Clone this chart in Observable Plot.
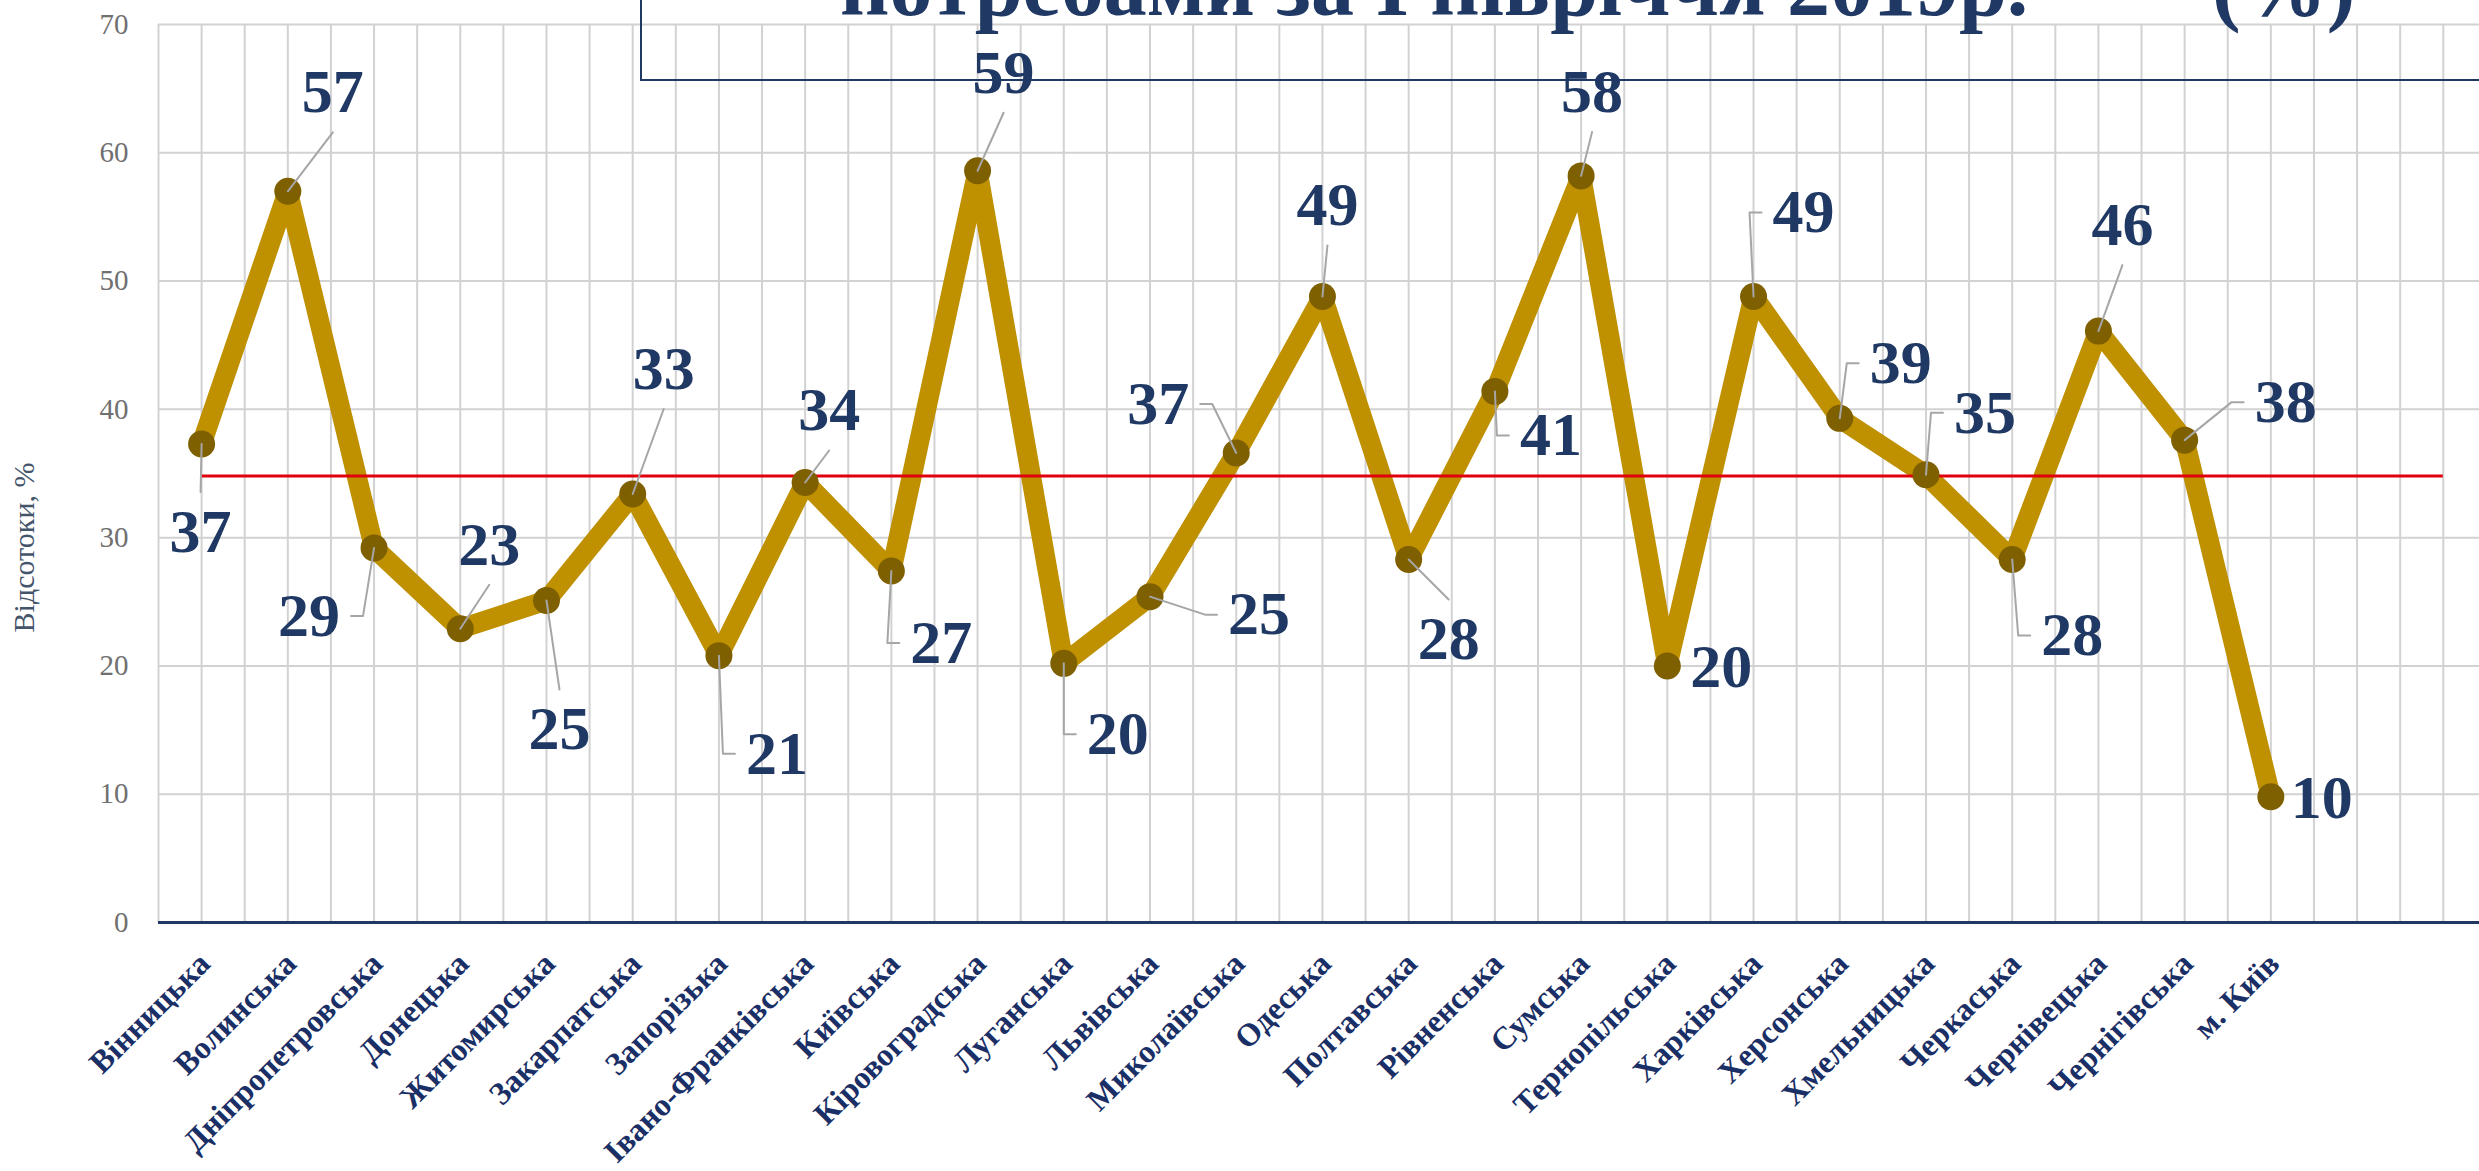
<!DOCTYPE html>
<html><head><meta charset="utf-8">
<script src="https://cdn.jsdelivr.net/npm/d3@7"></script>
<script src="https://cdn.jsdelivr.net/npm/@observablehq/plot@0.6"></script>
<style>
html,body{margin:0;padding:0;background:#fff;overflow:hidden}
#wrap{position:relative;width:2479px;height:1171px;overflow:hidden;background:#fff}
#chart{position:absolute;left:0;top:0}
#titlebox{position:absolute;left:640px;top:-200px;width:2000px;height:281px;border-left:2px solid #1f3864;border-bottom:2px solid #1f3864;box-sizing:border-box}
.tt{position:absolute;font-family:"Liberation Serif","Times New Roman",serif;font-weight:bold;font-size:86px;color:#1f3864;white-space:nowrap;line-height:86px}
</style></head><body>
<div id="wrap">
<div id="chart"></div>
<div id="titlebox"></div>
<div class="tt" style="left:840px;top:-57px">потребами за І півріччя 2019р.</div>
<div class="tt" style="left:2212px;top:-57px">(%)</div>
</div>
<script>
// ---- data ----
const categories = ["Вінницька","Волинська","Дніпропетровська","Донецька","Житомирська","Закарпатська","Запорізька","Івано-Франківська","Київська","Кіровоградська","Луганська","Львівська","Миколаївська","Одеська","Полтавська","Рівненська","Сумська","Тернопільська","Харківська","Херсонська","Хмельницька","Черкаська","Чернівецька","Чернігівська","м. Київ"];
const values = [37.3,57.0,29.2,22.9,25.1,33.4,20.8,34.3,27.4,58.6,20.2,25.4,36.6,48.8,28.3,41.4,58.2,20.0,48.8,39.3,34.9,28.3,46.1,37.6,9.8];
const averageValue = 34.8;
const averageSlots = 27;
const yTicks = [0,10,20,30,40,50,60,70];
const yTitle = "Відсотоки, %";

// ---- layout (label offsets from each point, px) ----
const labelOffsets = [[-1,88],[45,-99],[-65,68],[29,-84],[13,129],[31,-125],[58,98],[24,-72],[50,72],[26,-98],[54,71],[109,18],[-78,-49],[5,-91],[40,80],[56,44],[11,-84],[54,1],[50,-84],[61,-55],[59,-62],[60,76],[24,-106],[101,-38],[51,1]];

const W = 2479, H = 1171, ML = 158, MR = 0, MT = 24, MB = 249;
const xDomain = [-0.5, 26.42];
const xs = Plot.scale({x: {type: "linear", domain: xDomain, range: [ML, W - MR]}});
const ys = Plot.scale({y: {type: "linear", domain: [0, 70], range: [H - MB, MT]}});

const data = categories.map((c, i) => ({i, c, v: values[i], t: d3.format(".0f")(values[i])}));

const SIDE = 47, HW = 42, HH = 40, HOOK = 12, MINLEN = 22;
const labels = [];
const leaders = [];
data.forEach((d, k) => {
  const px = xs.apply(d.i), py = ys.apply(d.v);
  const lx = px + labelOffsets[k][0], ly = py + labelOffsets[k][1];
  labels.push({x: xs.invert(lx), y: ys.invert(ly), t: d.t});
  let pts;
  if (Math.abs(lx - px) > SIDE) {
    const s = Math.sign(lx - px);
    const ex = lx - s * HW, hx = ex - s * HOOK;
    pts = Math.abs(ly - py) < 15 ? [[px, py], [ex, ly]] : [[px, py], [hx, ly], [ex, ly]];
  } else {
    const s = Math.sign(ly - py);
    pts = [[px, py], [lx, ly - s * HH]];
  }
  const last = pts[pts.length - 1];
  if (Math.hypot(last[0] - px, last[1] - py) < MINLEN) return;
  pts.forEach(([x, y]) => leaders.push({k, x: xs.invert(x), y: ys.invert(y)}));
});

// y-axis title position (px in the SVG)
const yTitlePos = {x: xs.invert(24), y: ys.invert(547), text: yTitle};

const serif = "'Liberation Serif','Times New Roman',serif";
const navy = "#1f3864";

const chart = Plot.plot({
  width: W, height: H,
  marginLeft: ML, marginRight: MR, marginTop: MT, marginBottom: MB,
  style: {background: "transparent", overflow: "visible"},
  x: {type: "linear", domain: xDomain, axis: null},
  y: {type: "linear", domain: [0, 70], axis: null},
  marks: [
    Plot.gridX(d3.range(-0.5, 26.01, 0.5), {stroke: "#d2d2d2", strokeOpacity: 1, strokeWidth: 2}),
    Plot.gridY(yTicks.filter(d => d > 0), {stroke: "#d2d2d2", strokeOpacity: 1, strokeWidth: 2}),
    Plot.ruleY([0], {stroke: navy, strokeWidth: 3}),
    Plot.line(data, {x: "i", y: "v", stroke: "#bf9000", strokeWidth: 20, strokeLinejoin: "round", strokeLinecap: "round"}),
    Plot.ruleY([averageValue], {x1: 0, x2: averageSlots - 1, stroke: "#e0000b", strokeWidth: 3}),
    Plot.dot(data, {x: "i", y: "v", r: 13.5, fill: "#7f6000", stroke: null}),
    Plot.line(leaders, {x: "x", y: "y", z: "k", stroke: "#a6a6a6", strokeWidth: 2}),
    Plot.text(labels, {x: "x", y: "y", text: "t", fontSize: 62, fontWeight: "bold", fontFamily: serif, fill: navy}),
    Plot.text(data, {x: "i", y: 0, text: "c", rotate: -45, textAnchor: "end", dx: 3, dy: 36, fontSize: 32, fontWeight: "bold", fontFamily: serif, fill: "#1a2f66"}),
    Plot.axisY({ticks: yTicks, tickSize: 0, tickPadding: 30, fontSize: 29, fontFamily: serif, color: "#707070", label: null}),
    Plot.text([yTitlePos], {x: "x", y: "y", text: "text", rotate: -90, fontSize: 30, fontFamily: serif, fill: "#44546a", clip: false})
  ]
});
document.getElementById("chart").appendChild(chart);
</script>
</body></html>
